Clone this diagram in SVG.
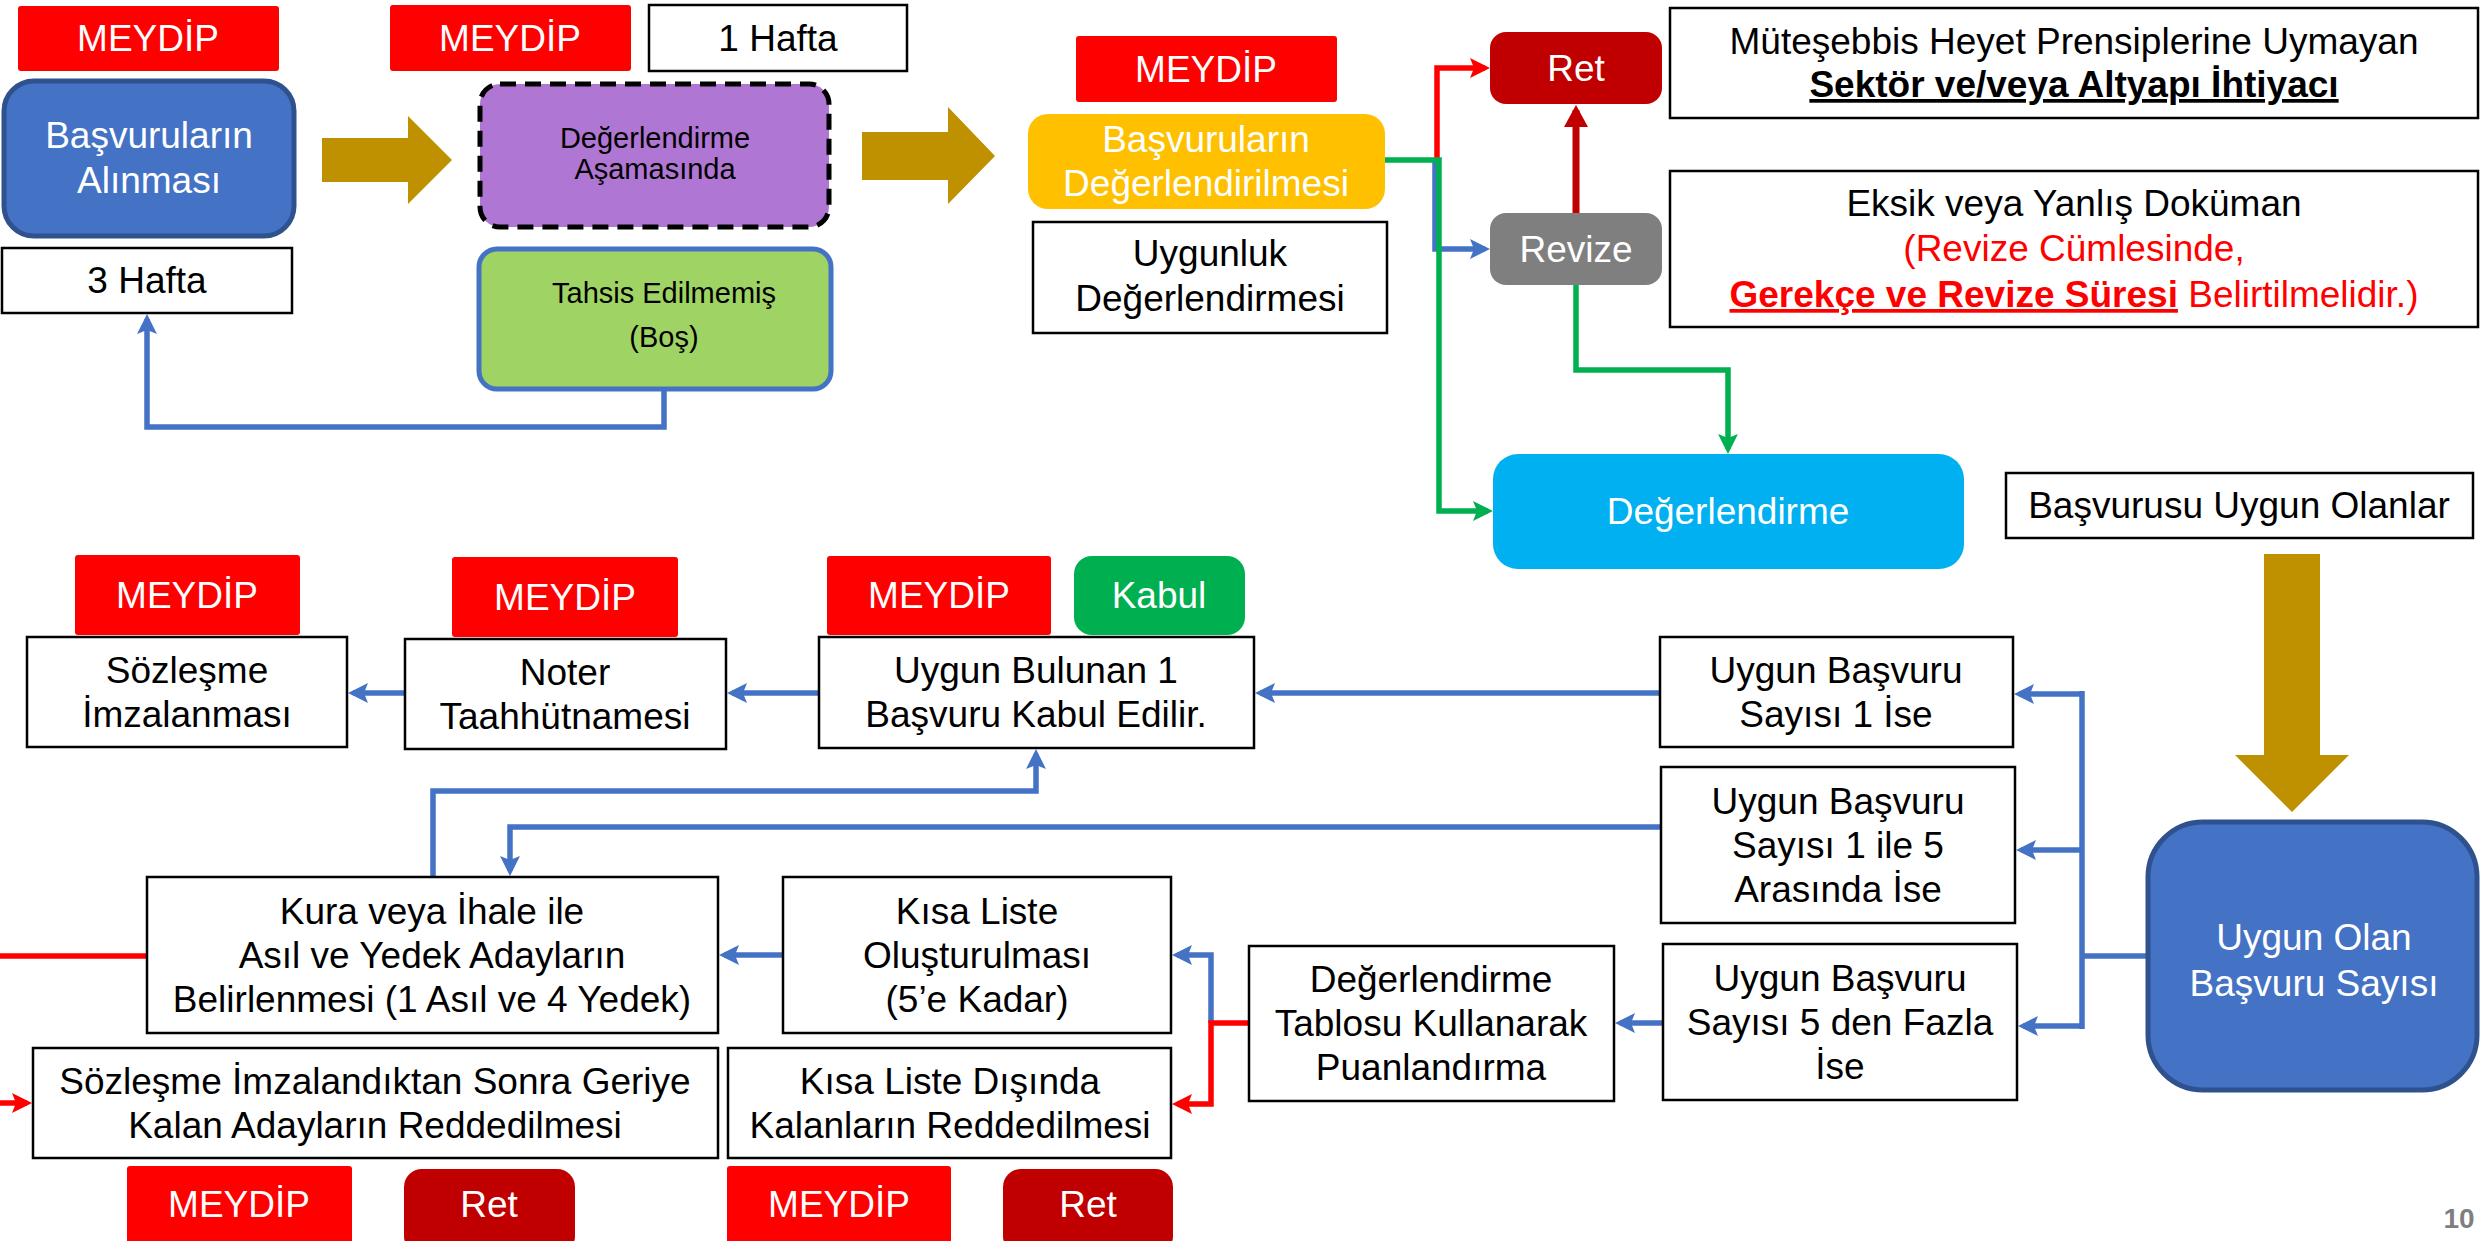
<svg xmlns="http://www.w3.org/2000/svg" width="2481" height="1241" viewBox="0 0 2481 1241">
<style>
text{font-family:"Liberation Sans",Arial,sans-serif;font-size:37px;text-anchor:middle;fill:#000}
.w{fill:#fff}
.s29{font-size:29px}
.box{fill:#fff;stroke:#000;stroke-width:2.5}
.mey{fill:#FF0000}
.ret{fill:#C00000}
.blue{fill:#4472C4;stroke:#2F528F;stroke-width:5}
.gold{fill:#BF9000}
.c{fill:none;stroke-width:5.5;stroke-linejoin:miter}
.cb{stroke:#4472C4}
.cg{stroke:#00B050}
.cr{stroke:#FF0000}
.cd{stroke:#C00000;stroke-width:7}
</style>
<defs>
<marker id="ab" markerUnits="userSpaceOnUse" markerWidth="22" markerHeight="22" refX="15" refY="10" orient="auto"><path d="M0,0 L20,10 L0,20 L4,10 z" fill="#4472C4"/></marker>
<marker id="ag" markerUnits="userSpaceOnUse" markerWidth="22" markerHeight="22" refX="15" refY="10" orient="auto"><path d="M0,0 L20,10 L0,20 L4,10 z" fill="#00B050"/></marker>
<marker id="ar" markerUnits="userSpaceOnUse" markerWidth="22" markerHeight="22" refX="15" refY="10" orient="auto"><path d="M0,0 L20,10 L0,20 L4,10 z" fill="#FF0000"/></marker>
<marker id="ad" markerUnits="userSpaceOnUse" markerWidth="26" markerHeight="26" refX="17" refY="12" orient="auto"><path d="M0,0 L22,12 L0,24 z" fill="#C00000"/></marker>
</defs>
<rect width="2481" height="1241" fill="#fff"/>

<g id="connectors">
<path class="c cb" d="M664 390 V427 H147 V319" marker-end="url(#ab)"/>
<path class="c cb" d="M1435 160 V249 H1485" marker-end="url(#ab)"/>
<path class="c cr" d="M1437 160 V68 H1485" marker-end="url(#ar)"/>
<path class="c cg" d="M1385 160 H1439 V511 H1488" marker-end="url(#ag)"/>
<path class="c cd" d="M1576 213 V110" marker-end="url(#ad)"/>
<path class="c cg" d="M1576 285 V370 H1728 V449" marker-end="url(#ag)"/>
<path class="c cb" d="M2148 956 H2082"/>
<path class="c cb" d="M2082 691 V1029"/>
<path class="c cb" d="M2082 694 H2019" marker-end="url(#ab)"/>
<path class="c cb" d="M2082 850 H2021" marker-end="url(#ab)"/>
<path class="c cb" d="M2082 1026 H2023" marker-end="url(#ab)"/>
<path class="c cb" d="M1660 693 H1260" marker-end="url(#ab)"/>
<path class="c cb" d="M819 693 H732" marker-end="url(#ab)"/>
<path class="c cb" d="M405 693 H353" marker-end="url(#ab)"/>
<path class="c cb" d="M1661 827 H510 V871" marker-end="url(#ab)"/>
<path class="c cb" d="M433 877 V791 H1036 V754" marker-end="url(#ab)"/>
<path class="c cb" d="M1663 1023 H1620" marker-end="url(#ab)"/>
<path class="c cb" d="M1211 1023 V955 H1177" marker-end="url(#ab)"/>
<path class="c cr" d="M1248 1023 H1211 V1104 H1177" marker-end="url(#ar)"/>
<path class="c cb" d="M783 955 H724" marker-end="url(#ab)"/>
<path class="c cr" d="M0 956 H147"/>
<path class="c cr" d="M0 1103 H27" marker-end="url(#ar)"/>
</g>

<g id="gold-arrows">
<polygon class="gold" points="322,138 408,138 408,116 452,160 408,204 408,182 322,182"/>
<polygon class="gold" points="862,132 948,132 948,107 995,156 948,204 948,180 862,180"/>
<polygon class="gold" points="2264,554 2320,554 2320,755 2349,755 2292,812 2235,755 2264,755"/>
</g>

<g id="n-meydip1"><rect class="mey" x="18" y="6" width="261" height="65" rx="3"/><text class="w" x="148" y="51">MEYDİP</text></g>
<g id="n-basvuru-alinmasi"><rect class="blue" x="4" y="81" width="290" height="155" rx="30"/><text class="w" x="149" y="148">Başvuruların</text><text class="w" x="149" y="193">Alınması</text></g>
<g id="n-3hafta"><rect class="box" x="2" y="248" width="290" height="65"/><text x="147" y="293">3 Hafta</text></g>
<g id="n-meydip2"><rect class="mey" x="390" y="5" width="241" height="66" rx="3"/><text class="w" x="510" y="51">MEYDİP</text></g>
<g id="n-1hafta"><rect class="box" x="649" y="5" width="258" height="66"/><text x="778" y="51">1 Hafta</text></g>
<g id="n-degerlendirme-asamasinda"><rect x="480" y="84" width="349" height="143" rx="20" fill="#B076D3" stroke="#000" stroke-width="5" stroke-dasharray="16 9"/><text class="s29" x="655" y="148">Değerlendirme</text><text class="s29" x="655" y="179">Aşamasında</text></g>
<g id="n-tahsis"><rect x="479" y="249" width="352" height="140" rx="18" fill="#9FD363" stroke="#4472C4" stroke-width="5"/><text class="s29" x="664" y="303">Tahsis Edilmemiş</text><text class="s29" x="664" y="347">(Boş)</text></g>

<g id="n-meydip3"><rect class="mey" x="1076" y="36" width="261" height="66" rx="3"/><text class="w" x="1206" y="82">MEYDİP</text></g>
<g id="n-basvuru-degerlendirilmesi"><rect x="1028" y="114" width="357" height="95" rx="20" fill="#FFC000"/><text class="w" x="1206" y="152">Başvuruların</text><text class="w" x="1206" y="196">Değerlendirilmesi</text></g>
<g id="n-uygunluk"><rect class="box" x="1033" y="222" width="354" height="111"/><text x="1210" y="266">Uygunluk</text><text x="1210" y="311">Değerlendirmesi</text></g>
<g id="n-ret-top"><rect class="ret" x="1490" y="32" width="172" height="72" rx="16"/><text class="w" x="1576" y="81">Ret</text></g>
<g id="n-revize"><rect x="1490" y="213" width="172" height="72" rx="16" fill="#7F7F7F"/><text class="w" x="1576" y="262">Revize</text></g>
<g id="n-muteşebbis"><rect class="box" x="1670" y="8" width="808" height="110"/><text x="2074" y="54">Müteşebbis Heyet Prensiplerine Uymayan</text><text x="2074" y="97" font-weight="bold" text-decoration="underline">Sektör ve/veya Altyapı İhtiyacı</text></g>
<g id="n-eksik"><rect class="box" x="1670" y="171" width="808" height="156"/><text x="2074" y="216">Eksik veya Yanlış Doküman</text><text x="2074" y="261" fill="#FF0000" style="fill:#FF0000">(Revize Cümlesinde,</text><text x="2074" y="307" style="fill:#FF0000"><tspan font-weight="bold" text-decoration="underline" style="fill:#FF0000">Gerekçe ve Revize Süresi</tspan><tspan style="fill:#FF0000"> Belirtilmelidir.)</tspan></text></g>
<g id="n-degerlendirme"><rect x="1493" y="454" width="471" height="115" rx="25" fill="#00B0F0"/><text class="w" x="1728" y="524">Değerlendirme</text></g>
<g id="n-basvurusu-uygun"><rect class="box" x="2006" y="473" width="467" height="65"/><text x="2239" y="518">Başvurusu Uygun Olanlar</text></g>
<g id="n-uygun-olan"><rect class="blue" x="2148" y="822" width="329" height="268" rx="55"/><text class="w" x="2314" y="950">Uygun Olan</text><text class="w" x="2314" y="996">Başvuru Sayısı</text></g>

<g id="n-meydip-a"><rect class="mey" x="75" y="555" width="225" height="80" rx="3"/><text class="w" x="187" y="608">MEYDİP</text></g>
<g id="n-sozlesme"><rect class="box" x="27" y="637" width="320" height="110"/><text x="187" y="683">Sözleşme</text><text x="187" y="727">İmzalanması</text></g>
<g id="n-meydip-b"><rect class="mey" x="452" y="557" width="226" height="80" rx="3"/><text class="w" x="565" y="610">MEYDİP</text></g>
<g id="n-noter"><rect class="box" x="405" y="639" width="321" height="110"/><text x="565" y="685">Noter</text><text x="565" y="729">Taahhütnamesi</text></g>
<g id="n-meydip-c"><rect class="mey" x="827" y="556" width="224" height="79" rx="3"/><text class="w" x="939" y="608">MEYDİP</text></g>
<g id="n-kabul"><rect x="1074" y="556" width="171" height="79" rx="18" fill="#00B050"/><text class="w" x="1159" y="608">Kabul</text></g>
<g id="n-uygun-bulunan"><rect class="box" x="819" y="637" width="435" height="111"/><text x="1036" y="683">Uygun Bulunan 1</text><text x="1036" y="727">Başvuru Kabul Edilir.</text></g>
<g id="n-sayi1"><rect class="box" x="1660" y="637" width="353" height="110"/><text x="1836" y="683">Uygun Başvuru</text><text x="1836" y="727">Sayısı 1 İse</text></g>
<g id="n-sayi15"><rect class="box" x="1661" y="767" width="354" height="156"/><text x="1838" y="814">Uygun Başvuru</text><text x="1838" y="858">Sayısı 1 ile 5</text><text x="1838" y="902">Arasında İse</text></g>
<g id="n-sayi5"><rect class="box" x="1663" y="944" width="354" height="156"/><text x="1840" y="991">Uygun Başvuru</text><text x="1840" y="1035">Sayısı 5 den Fazla</text><text x="1840" y="1079">İse</text></g>
<g id="n-tablosu"><rect class="box" x="1249" y="946" width="365" height="155"/><text x="1431" y="992">Değerlendirme</text><text x="1431" y="1036">Tablosu Kullanarak</text><text x="1431" y="1080">Puanlandırma</text></g>
<g id="n-kisa-liste"><rect class="box" x="783" y="877" width="388" height="156"/><text x="977" y="924">Kısa Liste</text><text x="977" y="968">Oluşturulması</text><text x="977" y="1012">(5’e Kadar)</text></g>
<g id="n-kura"><rect class="box" x="147" y="877" width="571" height="156"/><text x="432" y="924">Kura veya İhale ile</text><text x="432" y="968">Asıl ve Yedek Adayların</text><text x="432" y="1012">Belirlenmesi (1 Asıl ve 4 Yedek)</text></g>
<g id="n-sozlesme-sonra"><rect class="box" x="33" y="1048" width="685" height="110"/><text x="375" y="1094">Sözleşme İmzalandıktan Sonra Geriye</text><text x="375" y="1138">Kalan Adayların Reddedilmesi</text></g>
<g id="n-kisa-disinda"><rect class="box" x="728" y="1048" width="443" height="110"/><text x="950" y="1094">Kısa Liste Dışında</text><text x="950" y="1138">Kalanların Reddedilmesi</text></g>
<g id="n-meydip-d"><rect class="mey" x="127" y="1166" width="225" height="85" rx="3"/><text class="w" x="239" y="1217">MEYDİP</text></g>
<g id="n-ret-d"><rect class="ret" x="404" y="1169" width="171" height="85" rx="18"/><text class="w" x="489" y="1217">Ret</text></g>
<g id="n-meydip-e"><rect class="mey" x="727" y="1166" width="224" height="85" rx="3"/><text class="w" x="839" y="1217">MEYDİP</text></g>
<g id="n-ret-e"><rect class="ret" x="1003" y="1169" width="170" height="85" rx="18"/><text class="w" x="1088" y="1217">Ret</text></g>
<text x="2459" y="1228" font-size="28" font-weight="bold" style="font-size:28px;fill:#7F7F7F">10</text>
</svg>
